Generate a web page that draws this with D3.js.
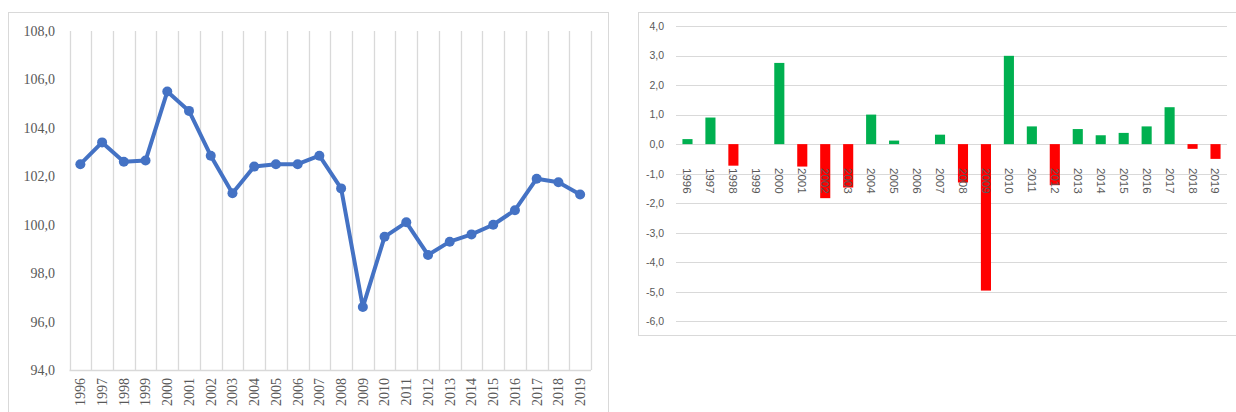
<!DOCTYPE html>
<html>
<head>
<meta charset="utf-8">
<script src="https://cdn.jsdelivr.net/npm/d3@7"></script>
<style>
  body { margin: 0; background: #fff; }
  svg { display: block; }
</style>
</head>
<body>
<div id="chart"></div>
<script>

// years shared by both panels
var years = ["1996","1997","1998","1999","2000","2001","2002","2003","2004","2005","2006","2007",
             "2008","2009","2010","2011","2012","2013","2014","2015","2016","2017","2018","2019"];

// left panel: index level
var indexValues = [102.5, 103.4, 102.6, 102.65, 105.5, 104.7, 102.85, 101.3, 102.4, 102.5, 102.5, 102.85,
                   101.5, 96.6, 99.5, 100.1, 98.75, 99.3, 99.6, 100.0, 100.6, 101.9, 101.75, 101.25];
var leftTicks = [94, 96, 98, 100, 102, 104, 106, 108];

// right panel: yearly change
var changeValues = [0.17, 0.9, -0.73, 0, 2.75, -0.76, -1.83, -1.47, 1.0, 0.12, 0, 0.32,
                    -1.3, -4.96, 2.99, 0.6, -1.39, 0.51, 0.3, 0.38, 0.6, 1.25, -0.16, -0.5];
var rightTicks = [-6, -5, -4, -3, -2, -1, 0, 1, 2, 3, 4];

var fmt = function(d){ return d.toFixed(1).replace(".", ","); };

var svg = d3.select("#chart").append("svg")
    .attr("width", 1236)
    .attr("height", 412);

// ---------- left panel ----------
svg.append("rect")
    .attr("x", 8.5).attr("y", 12.5)
    .attr("width", 600).attr("height", 420)
    .attr("fill", "none").attr("stroke", "#d9d9d9");

var xL = d3.scaleBand().domain(years).range([69.5, 591]);
var yL = d3.scaleLinear().domain([94, 108]).range([370, 31]);

var left = svg.append("g");

// vertical gridlines at category boundaries
var bounds = years.map(function(d){ return xL(d); }).concat([xL.range()[1]]);
left.selectAll("line.vgrid")
    .data(bounds)
    .enter().append("line")
    .attr("class", "vgrid")
    .attr("x1", function(d){ return Math.round(d) + 0.5; })
    .attr("x2", function(d){ return Math.round(d) + 0.5; })
    .attr("y1", yL(108))
    .attr("y2", yL(94))
    .attr("stroke", "#d9d9d9")
    .attr("stroke-width", 1.3);

left.append("line")
    .attr("x1", xL.range()[0]).attr("x2", xL.range()[1])
    .attr("y1", yL(94) + 0.5).attr("y2", yL(94) + 0.5)
    .attr("stroke", "#d9d9d9").attr("stroke-width", 1.3);

var yAxisL = left.append("g")
    .attr("transform", "translate(55,0)")
    .call(d3.axisLeft(yL).tickValues(leftTicks).tickFormat(fmt).tickSize(0).tickPadding(0));
yAxisL.select(".domain").remove();
yAxisL.selectAll("text")
    .attr("font-family", "Liberation Serif")
    .attr("font-size", 14)
    .attr("fill", "#595959");

left.selectAll("text.xl")
    .data(years)
    .enter().append("text")
    .attr("class", "xl")
    .attr("transform", function(d){
        return "translate(" + (xL(d) + xL.bandwidth() / 2) + ",378) rotate(-90)";
    })
    .attr("dy", "0.35em")
    .attr("text-anchor", "end")
    .attr("font-family", "Liberation Serif")
    .attr("font-size", 14)
    .attr("fill", "#595959")
    .text(function(d){ return d; });

var line = d3.line()
    .x(function(d, i){ return xL(years[i]) + xL.bandwidth() / 2; })
    .y(function(d){ return yL(d); });

left.append("path")
    .datum(indexValues)
    .attr("d", line)
    .attr("fill", "none")
    .attr("stroke", "#4472c4")
    .attr("stroke-width", 4)
    .attr("stroke-linejoin", "round");

left.selectAll("circle")
    .data(indexValues)
    .enter().append("circle")
    .attr("cx", function(d, i){ return xL(years[i]) + xL.bandwidth() / 2; })
    .attr("cy", function(d){ return yL(d); })
    .attr("r", 5)
    .attr("fill", "#4472c4");

// ---------- right panel ----------
svg.append("rect")
    .attr("x", 638.5).attr("y", 12.5)
    .attr("width", 610).attr("height", 323)
    .attr("fill", "none").attr("stroke", "#d9d9d9");

var xR = d3.scaleBand().domain(years).range([676, 1227]);
var yR = d3.scaleLinear().domain([-6, 4]).range([321.3, 26]);

var right = svg.append("g");

right.selectAll("line.hgrid")
    .data(rightTicks)
    .enter().append("line")
    .attr("class", "hgrid")
    .attr("x1", xR.range()[0]).attr("x2", xR.range()[1])
    .attr("y1", function(d){ return Math.round(yR(d)) + 0.5; })
    .attr("y2", function(d){ return Math.round(yR(d)) + 0.5; })
    .attr("stroke", "#d9d9d9")
    .attr("stroke-width", 1.2);

var yAxisR = right.append("g")
    .attr("transform", "translate(664,0)")
    .call(d3.axisLeft(yR).tickValues(rightTicks).tickFormat(fmt).tickSize(0).tickPadding(0));
yAxisR.select(".domain").remove();
yAxisR.selectAll("text")
    .attr("font-family", "Liberation Sans")
    .attr("font-size", 10.5)
    .attr("fill", "#595959");

var barW = xR.bandwidth() * 0.44;
right.selectAll("rect.bar")
    .data(changeValues)
    .enter().append("rect")
    .attr("class", "bar")
    .attr("x", function(d, i){ return xR(years[i]) + (xR.bandwidth() - barW) / 2; })
    .attr("y", function(d){ return yR(Math.max(0, d)); })
    .attr("width", barW)
    .attr("height", function(d){ return Math.abs(yR(d) - yR(0)); })
    .attr("fill", function(d){ return d >= 0 ? "#00b050" : "#ff0000"; });

right.selectAll("text.xr")
    .data(years)
    .enter().append("text")
    .attr("class", "xr")
    .attr("transform", function(d){
        return "translate(" + (xR(d) + xR.bandwidth() / 2) + ",168) rotate(90)";
    })
    .attr("dy", "0.35em")
    .attr("text-anchor", "start")
    .attr("font-family", "Liberation Sans")
    .attr("font-size", 11.5)
    .attr("fill", "#595959")
    .text(function(d){ return d; });

</script>
</body>
</html>
